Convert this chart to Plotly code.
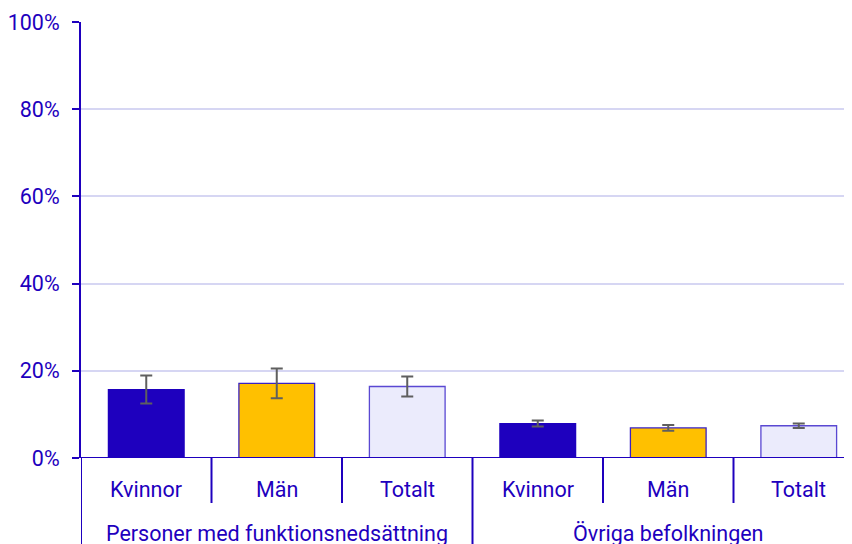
import plotly.graph_objects as go

groups = ["Personer med funktionsnedsättning", "Övriga befolkningen"]
subcats = ["Kvinnor", "Män", "Totalt", "Kvinnor", "Män", "Totalt"]
values = [15.7, 17.1, 16.4, 7.9, 6.9, 7.4]
errors = [3.2, 3.4, 2.3, 0.7, 0.65, 0.5]
bar_colors = ["#1E00BE", "#FFC000", "#EBEBFC", "#1E00BE", "#FFC000", "#EBEBFC"]
bar_edges = ["#1E00BE", "#3A22C4", "#5A48D2", "#1E00BE", "#3A22C4", "#5A48D2"]
yticks = [0, 20, 40, 60, 80, 100]
ytick_text = ["0%", "20%", "40%", "60%", "80%", "100%"]

BLUE = "#1E00BE"
FONT = "Roboto"
FS = 21.5

xs = list(range(len(subcats)))
fig = go.Figure()
fig.add_trace(go.Bar(
    x=xs, y=values, width=0.58,
    marker=dict(color=bar_colors, line=dict(color=bar_edges, width=1.3)),
    error_y=dict(type="data", array=errors, visible=True, color="#5F5F5F", thickness=2, width=6),
    hoverinfo="skip",
))

plot_h = 436
sub_depth = -45 / plot_h
full_depth = -86 / plot_h
shapes = []
for g in range(len(groups)):
    for k in range(1, 3):
        xb = g * 3 + k - 0.5
        shapes.append(dict(type="line", xref="x", yref="paper", x0=xb, x1=xb, y0=0, y1=sub_depth,
                           line=dict(color=BLUE, width=2)))
for g in range(len(groups) + 1):
    xb = g * 3 - 0.5
    shapes.append(dict(type="line", xref="x", yref="paper", x0=xb, x1=xb, y0=0, y1=full_depth,
                       line=dict(color=BLUE, width=2)))
shapes.append(dict(type="line", xref="x", yref="y", x0=-0.5 - 7 / 130.5, x1=6.0, y0=0, y1=0,
                   line=dict(color=BLUE, width=2)))

annotations = []
for i, s in enumerate(subcats):
    annotations.append(dict(x=i, y=-31 / plot_h, xref="x", yref="paper", text=s, showarrow=False,
                            font=dict(family=FONT, size=FS, color=BLUE), yanchor="middle"))
for g, name in enumerate(groups):
    annotations.append(dict(x=g * 3 + 1, y=-75 / plot_h, xref="x", yref="paper", text=name, showarrow=False,
                            font=dict(family=FONT, size=FS, color=BLUE), yanchor="middle"))

# page body has an 8px default margin; compensate so the plot lands where the reference has it
fig.update_layout(
    width=844, height=536, autosize=False,
    margin=dict(l=73, r=0, t=14, b=86, pad=0),
    plot_bgcolor="white", paper_bgcolor="white",
    showlegend=False,
    font=dict(family=FONT, size=FS, color=BLUE),
    xaxis=dict(range=[-0.5, -0.5 + 771 / 130.5], showticklabels=False, showgrid=False, zeroline=False,
               showline=False, ticks="", fixedrange=True),
    yaxis=dict(range=[0, 100], tickmode="array", tickvals=yticks, ticktext=ytick_text,
               showgrid=True, gridcolor="#D6D6F3",
               gridwidth=2, zeroline=False, showline=True, linecolor=BLUE, linewidth=2,
               ticks="outside", ticklen=7, tickcolor=BLUE, tickwidth=2, ticklabelstandoff=8,
               tickfont=dict(family=FONT, size=FS, color=BLUE), fixedrange=True),
    shapes=shapes, annotations=annotations,
)

fig.write_html("out.html", config=dict(displayModeBar=False))
